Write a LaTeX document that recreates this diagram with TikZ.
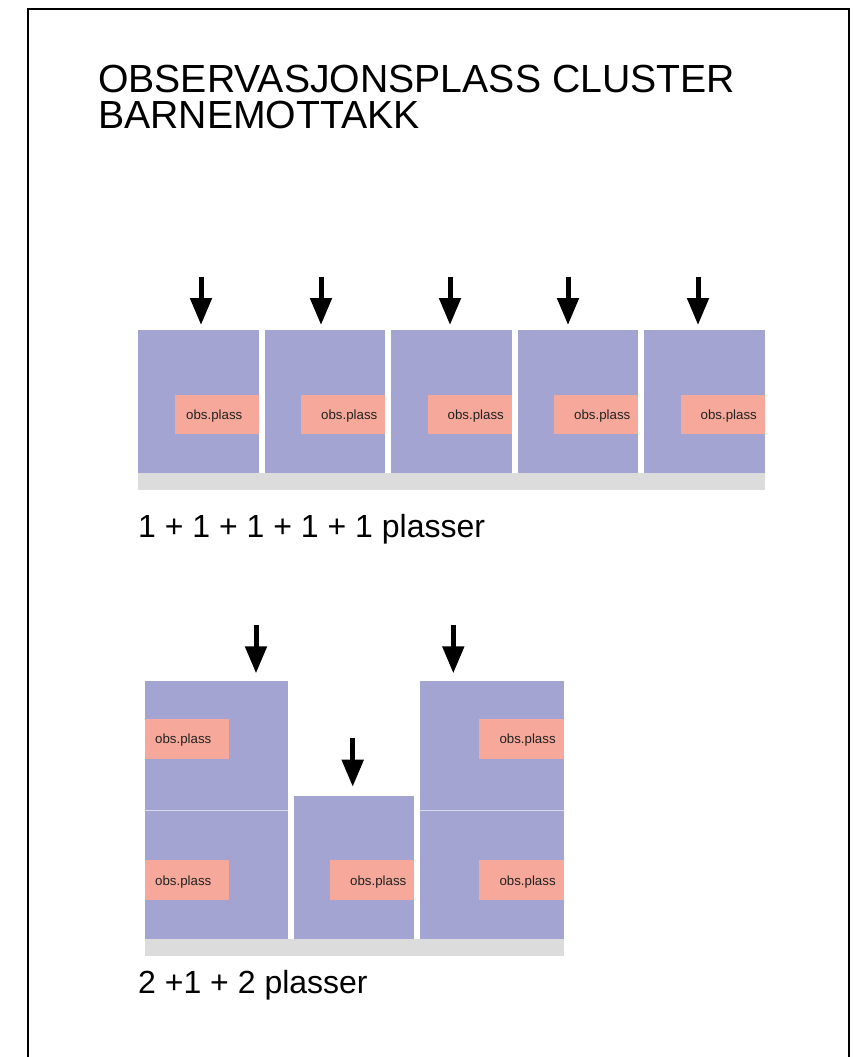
\documentclass[tikz,border=0pt]{standalone}
\usepackage{fontspec}
\setmainfont{Liberation Sans}
\usetikzlibrary{arrows.meta}
\definecolor{roomc}{HTML}{A3A4D2}
\definecolor{obsc}{HTML}{F6A99B}
\definecolor{stripc}{HTML}{DCDCDC}
\definecolor{obstext}{HTML}{222222}
\begin{document}
\begin{tikzpicture}[x=1pt,y=-1pt,
  room/.style={fill=roomc},
  obsbox/.style={fill=obsc},
  strip/.style={fill=stripc},
  obslabel/.style={anchor=west,inner sep=0pt,text=obstext,font=\fontsize{13.3}{15}\selectfont},
  downarrow/.style={line width=5pt,-{Triangle[length=27pt,width=21pt]}},
  bigtext/.style={anchor=base west,inner sep=0pt,font=\fontsize{32}{36}\selectfont},
  titletext/.style={anchor=base west,inner sep=0pt,font=\fontsize{39.2}{40}\selectfont}]
\useasboundingbox (0,0) rectangle (852,1057);
\fill[white] (0,0) rectangle (852,1057);
% frame
\draw[line width=2pt] (28,1060) -- (28,9) -- (849,9) -- (849,1060);
% title
\node[titletext] (t1) at (98,92.5) {OBSERVASJONSPLASS CLUSTER};
\node[titletext] (t2) at (98,128.5) {BARNEMOTTAKK};
% row 1
\fill[strip] (138.3,473.3) rectangle (764.5,490);
\foreach \x/\ax/\off [count=\i] in {138.3/201/11.5, 264.8/321/20, 391.3/450/20, 517.8/568/20, 644.3/698/20}{
  \fill[room] (\x,330) rectangle ++(120.5,143.3);
  \fill[obsbox] (\x+36.2,395) rectangle (\x+120.5,434.3);
  \node[obslabel] (o\i) at (\x+36.2+\off,416.2) {obs.plass};
  \coordinate (as\i) at (\ax,276.7);
  \coordinate (ae\i) at (\ax,325);
  \draw[downarrow] (as\i) -- (ae\i);
}
\node[bigtext] (l1) at (138,537) {1 + 1 + 1 + 1 + 1 plasser};
% row 2
\fill[strip] (145,939) rectangle (563.7,955.7);
% left room
\fill[room] (145,681) rectangle (287.7,939);
\draw[roomc!40!white,line width=0.8pt] (145,810.3) -- (287.7,810.3);
% middle room
\fill[room] (294,796) rectangle (414.3,939);
% right room
\fill[room] (420.3,681) rectangle (563.7,939);
\draw[roomc!40!white,line width=0.8pt] (420.3,810.3) -- (563.7,810.3);
% obs boxes row 2
\fill[obsbox] (145,719) rectangle (229.3,758.7);
\node[obslabel] (p1) at (155,740.3) {obs.plass};
\fill[obsbox] (145,860.3) rectangle (229.3,900.3);
\node[obslabel] (p2) at (155,881.8) {obs.plass};
\fill[obsbox] (330,860.3) rectangle (414.3,900.3);
\node[obslabel] (p3) at (350,881.8) {obs.plass};
\fill[obsbox] (479.3,719) rectangle (563.7,758.7);
\node[obslabel] (p4) at (499.3,740.3) {obs.plass};
\fill[obsbox] (479.3,860.3) rectangle (563.7,900.3);
\node[obslabel] (p5) at (499.3,881.8) {obs.plass};
% arrows row 2
\coordinate (bs1) at (256,625); \coordinate (be1) at (256,673.3);
\coordinate (bs2) at (352.7,738.3); \coordinate (be2) at (352.7,786.7);
\coordinate (bs3) at (453.3,625); \coordinate (be3) at (453.3,673.3);
\draw[downarrow] (bs1) -- (be1);
\draw[downarrow] (bs2) -- (be2);
\draw[downarrow] (bs3) -- (be3);
\node[bigtext] (l2) at (138,993) {2 +1 + 2 plasser};
\end{tikzpicture}
\end{document}
